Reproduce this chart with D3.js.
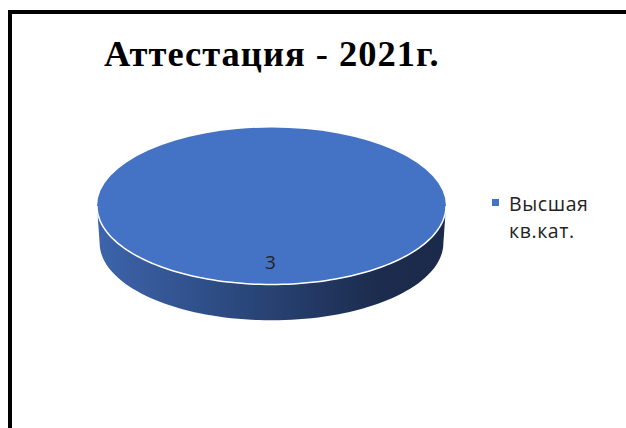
<!DOCTYPE html>
<html>
<head>
<meta charset="utf-8">
<script src="https://cdn.jsdelivr.net/npm/d3@7"></script>
<style>
	body { margin: 0; background: #fff; }
	svg { display: block; }
</style>
</head>
<body>
<div id="chart"></div>
<script>
var title = "Аттестация - 2021г.";
var categories = ["Высшая кв.кат."];
var legendLines = [["Высшая", "кв.кат."]];
var values = [3];
var colors = ["#4472C4"];

var width = 626;
var height = 428;

var svg = d3.select("#chart")
	.append("svg")
	.attr("width", width)
	.attr("height", height);

// frame of the slide
svg.append("rect")
	.attr("x", 10)
	.attr("y", 12)
	.attr("width", 800)
	.attr("height", 600)
	.attr("fill", "#fff")
	.attr("stroke", "#000")
	.attr("stroke-width", 4);

svg.append("text")
	.attr("x", 104)
	.attr("y", 66)
	.attr("font-family", "Liberation Serif")
	.attr("font-weight", "bold")
	.attr("font-size", 36.5)
	.attr("letter-spacing", 1)
	.attr("fill", "#000")
	.text(title);

var cx = 271.5, cy = 206;
var rx = 174.5, ry = 78.5;
var depth = 37;
var shrink = 0.985;

var defs = svg.append("defs");
var grad = defs.append("linearGradient")
	.attr("id", "side")
	.attr("x1", "0%").attr("x2", "100%")
	.attr("y1", "0%").attr("y2", "0%");
grad.append("stop").attr("offset", "0%").attr("stop-color", "#3d64ab");
grad.append("stop").attr("offset", "45%").attr("stop-color", "#294578");
grad.append("stop").attr("offset", "80%").attr("stop-color", "#1c2c4e");
grad.append("stop").attr("offset", "100%").attr("stop-color", "#1b2a4a");

var pie = d3.pie().sort(null);
var slices = pie(values);

// point on an ellipse for a d3 angle (0 = 12 o'clock, clockwise)
function pt(a, r, k, dy) {
	return [cx + r * k * Math.sin(a), cy + dy - r * (ry / rx) * k * Math.cos(a)];
}

var sides = svg.append("g").attr("class", "sides");
var tops = svg.append("g").attr("class", "tops");

slices.forEach(function(s, i) {
	// visible side lies between angles PI/2 and 3PI/2
	var a0 = Math.max(s.startAngle, Math.PI / 2);
	var a1 = Math.min(s.endAngle, 3 * Math.PI / 2);
	if (a1 > a0) {
		var n = 80, p = [];
		for (var j = 0; j <= n; j++) p.push(pt(a0 + (a1 - a0) * j / n, rx, 1, 0));
		for (var j = n; j >= 0; j--) p.push(pt(a0 + (a1 - a0) * j / n, rx, shrink, depth));
		sides.append("path")
			.attr("d", d3.line()(p) + "Z")
			.attr("fill", "url(#side)");
	}
});

var arc = d3.arc().innerRadius(0).outerRadius(rx);
tops.selectAll("path")
	.data(slices)
	.join("path")
	.attr("transform", "translate(" + cx + "," + cy + ") scale(1," + (ry / rx) + ")")
	.attr("d", arc)
	.attr("fill", function(d, i) { return colors[i]; });

// white rim along the front edge
var rim = [];
for (var j = 0; j <= 100; j++) rim.push(pt(Math.PI / 2 + Math.PI * j / 100, rx, 1, 0));
svg.append("path")
	.attr("d", d3.line()(rim))
	.attr("fill", "none")
	.attr("stroke", "#fff")
	.attr("stroke-width", 1.5);

// data label
svg.selectAll("text.label")
	.data(slices)
	.join("text")
	.attr("class", "label")
	.attr("x", cx - 1)
	.attr("y", 269)
	.attr("text-anchor", "middle")
	.attr("font-family", "Open Sans")
	.attr("font-size", 19)
	.attr("fill", "#222")
	.text(function(d) { return d.data; });

// legend
var legend = svg.append("g").attr("transform", "translate(492,199)");
categories.forEach(function(c, i) {
	legend.append("rect")
		.attr("width", 7).attr("height", 7)
		.attr("fill", colors[i]);
	legend.append("text")
		.attr("x", 17)
		.attr("y", 12)
		.attr("font-family", "Open Sans")
		.attr("font-size", 19.5)
		.attr("letter-spacing", 0.6)
		.attr("fill", "#222")
		.selectAll("tspan")
		.data(legendLines[i])
		.join("tspan")
		.attr("x", 17)
		.attr("dy", function(d, k) { return k ? 27 : 0; })
		.text(function(d) { return d; });
});
</script>
</body>
</html>
